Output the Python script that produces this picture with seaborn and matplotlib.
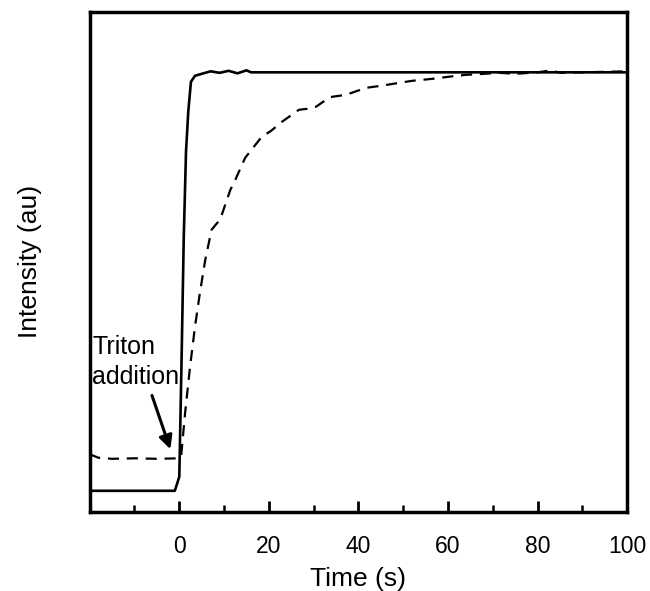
import numpy as np
import pandas as pd
import seaborn as sns
from matplotlib import pyplot as plt
from matplotlib.ticker import MultipleLocator

sns.set_style('white')
plt.rcParams['font.family'] = ['Liberation Sans', 'DejaVu Sans']
plt.rcParams['text.color'] = 'black'
plt.rcParams['axes.labelcolor'] = 'black'
plt.rcParams['xtick.color'] = 'black'

# solid trace
solid_t = [-20, -1, 0, 0.5, 1, 1.5, 2, 2.6, 3.5, 5, 7, 9, 11, 13, 15, 16, 100]
solid_i = [0.042, 0.042, 0.07, 0.30, 0.55, 0.72, 0.80, 0.86, 0.872, 0.876,
           0.881, 0.878, 0.882, 0.877, 0.883, 0.879, 0.879]

# dashed trace
dashed_t = [-20, -18, -15, -10, -5, 0, 0.4, 1.3, 2.4, 3.5, 4.6, 5.8, 7.2, 8.2,
            9.1, 11.4, 12.5, 14.7, 18.4, 20.5, 22.9, 26.7, 28.5, 30.5, 33.4,
            34.1, 37.2, 41.7, 45, 49.1, 52, 56.5, 60, 64, 68, 71.5, 75, 80,
            83, 85, 90, 95, 100]
dashed_i = [0.115, 0.108, 0.106, 0.107, 0.106, 0.107, 0.11, 0.198, 0.29, 0.37,
            0.438, 0.504, 0.564, 0.575, 0.584, 0.644, 0.664, 0.708, 0.75,
            0.762, 0.78, 0.804, 0.806, 0.81, 0.828, 0.83, 0.834, 0.848, 0.852,
            0.858, 0.862, 0.866, 0.87, 0.874, 0.876, 0.878, 0.876, 0.879,
            0.883, 0.878, 0.879, 0.88, 0.881]

solid = pd.DataFrame({'Time': solid_t, 'Intensity': solid_i})
dashed = pd.DataFrame({'Time': dashed_t, 'Intensity': dashed_i})

fig = plt.figure(figsize=(6.5, 5.91), dpi=100)
ax = fig.add_axes([0.138, 0.134, 0.827, 0.846])

sns.lineplot(x='Time', y='Intensity', data=solid, ax=ax, color='black',
             lw=1.9, sort=False)
sns.lineplot(x='Time', y='Intensity', data=dashed, ax=ax, color='black',
             lw=1.6, sort=False)
ax.lines[-1].set_dashes([5, 3.5])

ax.set_xlim(-20, 100)
ax.set_ylim(0, 1)
ax.xaxis.set_minor_locator(MultipleLocator(10))
ax.set_xticks([0, 20, 40, 60, 80, 100])
ax.set_yticks([])
ax.tick_params(axis='x', which='major', direction='in', length=8, width=2,
               labelsize=16.5, pad=17, bottom=True)
ax.tick_params(axis='x', which='minor', direction='in', length=5, width=1.8,
               bottom=True)
for s in ax.spines.values():
    s.set_linewidth(2.5)
    s.set_color('black')

ax.set_xlabel('Time (s)', size=19, labelpad=6)
ax.set_ylabel('Intensity (au)', size=19, labelpad=34)

ax.text(-19.4, 0.30, 'Triton\naddition', size=18, ha='left', va='center',
        linespacing=1.3)
ax.annotate('', xy=(-1.8, 0.12), xytext=(-6.3, 0.238),
            arrowprops=dict(arrowstyle='-|>', color='black', lw=2.2,
                            mutation_scale=20))

plt.savefig('out.png', dpi=100)
